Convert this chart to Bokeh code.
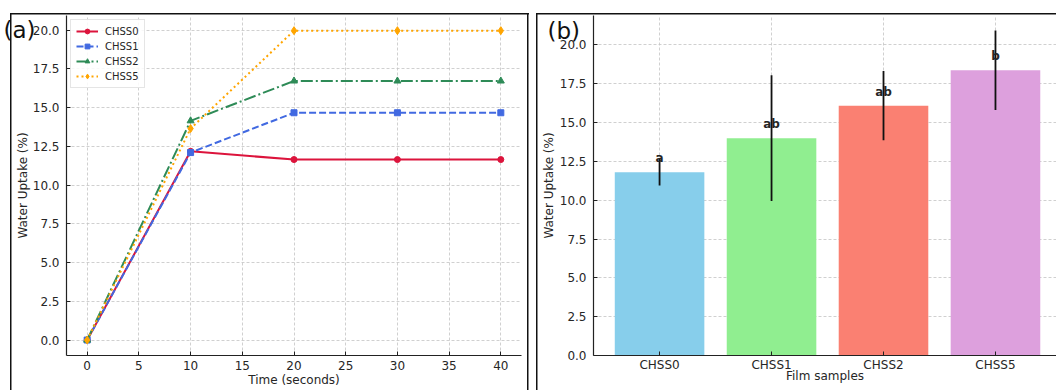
from bokeh.plotting import figure
from bokeh.layouts import row
from bokeh.models import (Range1d, SingleIntervalTicker, FixedTicker, NumeralTickFormatter, Title)
from bokeh.embed import file_html
from bokeh.resources import INLINE
from bokeh.core.properties import value

# ---------------- data ----------------
time_s = [0, 10, 20, 30, 40]
chss0 = [0.0, 12.18, 11.65, 11.65, 11.65]
chss1 = [0.0, 12.10, 14.67, 14.67, 14.67]
chss2 = [0.0, 14.15, 16.72, 16.72, 16.72]
chss5 = [0.0, 13.65, 19.97, 19.97, 19.97]

samples = ["CHSS0", "CHSS1", "CHSS2", "CHSS5"]
uptake_mean = [11.80, 14.00, 16.09, 18.38]
uptake_err = [0.85, 4.05, 2.23, 2.56]
letters = ["a", "ab", "ab", "b"]

FONT = "DejaVu Sans"
TXT = "#262626"
EDGE = "#111111"


def edge_css(lines):
    """CSS background layers that draw the thin panel frame lines (x, y, w, h in px)."""
    return ", ".join(f"linear-gradient({EDGE}, {EDGE}) {x}px {y}px / {w}px {h}px no-repeat"
                     for x, y, w, h in lines)


def style_axes(p):
    for ax in [p.xaxis[0], p.yaxis[0]]:
        ax.major_tick_in = 4
        ax.major_tick_out = 0
        ax.minor_tick_line_color = None
        ax.axis_line_color = "#222222"
        ax.axis_line_width = 1.2
        ax.major_tick_line_color = "#222222"
        ax.major_label_text_font = FONT
        ax.major_label_text_font_size = "12px"
        ax.major_label_text_color = TXT
        ax.axis_label_text_font = FONT
        ax.axis_label_text_font_size = "12px"
        ax.axis_label_text_font_style = "normal"
        ax.axis_label_text_color = TXT
        ax.major_label_standoff = 3
        ax.axis_label_standoff = 0
    p.xaxis.major_label_standoff = 1
    p.grid.grid_line_color = "#c4c4c4"
    p.grid.grid_line_dash = "3 2"
    p.grid.grid_line_width = 0.8
    p.outline_line_color = None
    p.border_fill_color = None
    p.background_fill_color = None


def panel_tag(text, offset, standoff):
    return Title(text=text, align="left", offset=offset, standoff=standoff,
                 vertical_align="bottom", text_font=FONT, text_font_size="23px",
                 text_font_style="normal", text_color=EDGE)


# ---------------- panel (a) ----------------
pa = figure(width=532, height=390, output_backend="svg", toolbar_location=None,
            x_range=Range1d(-2, 42), y_range=Range1d(-0.9975, 20.9475),
            min_border_left=66, min_border_right=11, min_border_top=15, min_border_bottom=35)
style_axes(pa)
pa.styles = {"background": edge_css([(10, 13, 1.5, 400), (10, 13, 519, 1.5), (527, 13, 1.5, 400)])}
pa.xaxis.ticker = SingleIntervalTicker(interval=5)
pa.yaxis.ticker = SingleIntervalTicker(interval=2.5)
pa.yaxis.formatter = NumeralTickFormatter(format="0.0")
pa.xaxis.axis_label = "Time (seconds)"
pa.yaxis.axis_label = "Water Uptake (%)"

series = [
    ("CHSS0", chss0, "#DC143C", "solid", "circle", 6),
    ("CHSS1", chss1, "#4169E1", "7 3", "square", 6),
    ("CHSS2", chss2, "#2E8B57", "12 3 2 3", "triangle", 7),
    ("CHSS5", chss5, "#FFA500", "2 3", "diamond", 8),
]
for name, ys, col, dash, mk, sz in series:
    pa.line(time_s, ys, line_color=col, line_width=2, line_dash=dash, legend_label=name)
    pa.scatter(time_s, ys, marker=mk, size=sz, fill_color=col, line_color=col, legend_label=name)

lg = pa.legend[0]
lg.location = "top_left"
lg.margin = 4
lg.padding = 5
lg.spacing = 3
lg.glyph_height = 12
lg.label_height = 12
lg.glyph_width = 22
lg.label_standoff = 7
lg.label_text_font = FONT
lg.label_text_font_size = "10px"
lg.label_text_color = TXT
lg.border_line_color = "#cccccc"
lg.border_line_width = 1
lg.background_fill_color = "white"
lg.background_fill_alpha = 0.85

pa.add_layout(panel_tag("(a)", -63, -54), "above")

# ---------------- panel (b) ----------------
xs = list(range(len(samples)))
lo = [m - e for m, e in zip(uptake_mean, uptake_err)]
hi = [m + e for m, e in zip(uptake_mean, uptake_err)]
lab_y = [m + 0.9 for m in uptake_mean]
bar_colors = ["#87CEEB", "#90EE90", "#FA8072", "#DDA0DD"]

pb = figure(width=524, height=390, output_backend="svg", toolbar_location=None,
            x_range=Range1d(-0.59, 3.545), y_range=Range1d(0, 21.9),
            min_border_left=61, min_border_right=0, min_border_top=14, min_border_bottom=29)
style_axes(pb)
pb.styles = {"background": edge_css([(4, 13, 1.5, 400), (4, 13, 600, 1.5)])}
pb.yaxis.axis_label_standoff = 1
pb.xaxis.ticker = FixedTicker(ticks=xs)
pb.xaxis.major_label_overrides = {i: s for i, s in enumerate(samples)}
pb.xaxis.major_label_standoff = 2
pb.yaxis.ticker = SingleIntervalTicker(interval=2.5)
pb.yaxis.formatter = NumeralTickFormatter(format="0.0")
pb.yaxis.axis_label = "Water Uptake (%)"

pb.vbar(x=xs, top=uptake_mean, width=0.8, fill_color=bar_colors, line_color=None)
pb.segment(x0=xs, y0=lo, x1=xs, y1=hi, line_color=EDGE, line_width=1.8)
pb.text(x=xs, y=lab_y, text=letters, text_align="center", text_baseline="alphabetic",
        text_font=value(FONT), text_font_style="bold", text_font_size="12px", text_color=TXT)

pb.add_layout(panel_tag("(b)", -46, -56), "above")
# x-axis title, tucked right under the tick labels like in the reference
pb.add_layout(Title(text="Film samples", align="center", standoff=-16, vertical_align="bottom",
                    text_font=FONT, text_font_size="12px", text_font_style="normal",
                    text_color=TXT), "below")

layout = row(pa, pb, spacing=0)
open("out.html", "w").write(file_html(layout, INLINE))
